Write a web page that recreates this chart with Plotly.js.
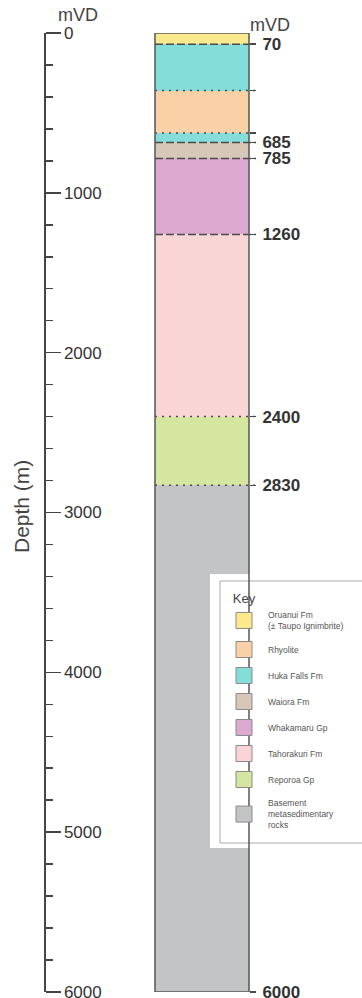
<!DOCTYPE html>
<html>
<head>
<meta charset="utf-8">
<script src="https://cdn.plot.ly/plotly-3.0.1.min.js"></script>
<style>html,body{margin:0;padding:0;background:#fff;}#chart{width:362px;height:998px;}</style>
</head>
<body>
<div id="chart"></div>
<script>
// ---- data ----
const unitNames = ['Oruanui Fm<br>(± Taupo Ignimbrite)', 'Rhyolite', 'Huka Falls Fm', 'Waiora Fm', 'Whakamaru Gp', 'Tahorakuri Fm', 'Reporoa Gp', 'Basement<br>metasedimentary<br>rocks'];
const unitColors = ['#fbe98e', '#fad1a7', '#85ddd9', '#d6c7b8', '#dcaad0', '#f9d6d5', '#d4e6a0', '#c3c4c6'];
// layers from top to bottom (index into unitNames)
const layerUnit   = [0, 2, 1, 2, 3, 4, 5, 6, 7];
const layerTop    = [0, 70, 360, 625, 685, 785, 1260, 2400, 2830];
const layerBottom = [70, 360, 625, 685, 785, 1260, 2400, 2830, 6000];
const contactStyle = ['dash', 'dot', 'dot', 'dash', 'dash', 'dash', 'dot', 'dot'];
const depthLabels  = ['70', '', '', '685', '785', '1260', '2400', '2830', '6000'];
const depthTicks = [0, 1000, 2000, 3000, 4000, 5000, 6000];
const colName = 'well';

const dashPattern = {dash: '8px,3px', dot: '2px,5px'};

// ---- build traces ----
const data = [];
unitNames.forEach((name, u) => {
  const xs = [], bases = [], ys = [];
  layerUnit.forEach((lu, i) => {
    if (lu === u) { xs.push(colName); bases.push(layerTop[i]); ys.push(layerBottom[i] - layerTop[i]); }
  });
  data.push({
    type: 'bar', x: xs, y: ys, base: bases, showlegend: false, hoverinfo: 'skip',
    marker: {color: unitColors[u], line: {width: 0}}, xaxis: 'x', yaxis: 'y'
  });
});
unitNames.forEach((name, u) => {
  data.push({
    type: 'scatter', mode: 'markers', x: [null], y: [null], name: name, legendgroup: 'g' + u,
    marker: {symbol: 'square', size: 16, color: unitColors[u], line: {color: '#8a8a8a', width: 1}},
    xaxis: 'x', yaxis: 'y'
  });
});
data.push({type: 'scatter', x: [null], y: [null], yaxis: 'y2', xaxis: 'x', showlegend: false, hoverinfo: 'skip'});

// plot area: top 33 px, bottom 992 px of a 998 px page
const py = v => (992 - v) / 959;

const shapes = [];
// white panel behind key, and the key frame
shapes.push({type: 'rect', xref: 'paper', yref: 'paper', x0: 210/362, x1: 1.02, y0: py(848), y1: py(574),
  fillcolor: '#ffffff', line: {width: 0}, layer: 'above'});
shapes.push({type: 'rect', xref: 'paper', yref: 'paper', x0: 220/362, x1: 1.05, y0: py(843), y1: py(581),
  fillcolor: '#ffffff', line: {width: 1, color: '#aaaaaa'}, layer: 'above'});
// contact lines
layerBottom.slice(0, -1).forEach((d, i) => {
  shapes.push({type: 'line', xref: 'x domain', yref: 'y', x0: 0, x1: 1.075, y0: d, y1: d,
    line: {color: '#4a4a4a', width: 1.5, dash: dashPattern[contactStyle[i]]}, layer: 'above'});
});
// column outline
shapes.push({type: 'rect', xref: 'x domain', yref: 'y', x0: 0, x1: 1, y0: layerTop[0], y1: layerBottom[layerBottom.length - 1],
  line: {color: '#555', width: 1.5}, layer: 'above'});

const layout = {
  width: 362, height: 998,
  margin: {l: 0, r: 0, t: 33, b: 6, autoexpand: false},
  paper_bgcolor: '#fff', plot_bgcolor: 'rgba(0,0,0,0)',
  barmode: 'overlay', bargap: 0,
  font: {family: 'Liberation Sans, Arial, sans-serif', color: '#333'},
  xaxis: {type: 'category', domain: [155/362, 249/362], range: [-0.5, 0.5], visible: false, fixedrange: true},
  yaxis: {
    range: [6000, 0], anchor: 'free', position: 44/362, side: 'right',
    showline: true, linecolor: '#444', linewidth: 1.5,
    ticks: 'outside', ticklen: 15, tickcolor: '#444', tickwidth: 1.5,
    tickvals: depthTicks, ticktext: depthTicks.map(String), ticklabeloverflow: 'allow',
    minor: {dtick: 200, ticks: 'outside', ticklen: 7, tickcolor: '#444', tickwidth: 1.5},
    showgrid: false, zeroline: false, tickfont: {size: 17, color: '#333'}
  },
  yaxis2: {
    range: [6000, 0], overlaying: 'y', anchor: 'free', position: 249/362, side: 'right',
    showline: false, ticks: 'outside', ticklen: 6, tickcolor: '#4a4a4a', tickwidth: 1.5,
    tickvals: layerBottom, ticktext: depthLabels, showgrid: false, zeroline: false, ticklabeloverflow: 'allow',
    ticklabelstandoff: 3,
    tickfont: {size: 17, color: '#333', weight: 'bold'}
  },
  shapes: shapes,
  annotations: [
    {text: 'Depth (m)', xref: 'paper', yref: 'paper', x: 22/362, y: py(507), textangle: -90,
     showarrow: false, font: {size: 21, color: '#444'}, xanchor: 'center', yanchor: 'middle'},
    {text: 'mVD', xref: 'paper', yref: 'paper', x: 78/362, y: py(15), showarrow: false,
     font: {size: 18, color: '#444'}, xanchor: 'center', yanchor: 'middle'},
    {text: 'mVD', xref: 'paper', yref: 'paper', x: 270/362, y: py(25), showarrow: false,
     font: {size: 18, color: '#444'}, xanchor: 'center', yanchor: 'middle'}
  ],
  showlegend: true,
  legend: {
    x: 220/362, y: py(586), xanchor: 'left', yanchor: 'top',
    bgcolor: 'rgba(255,255,255,0)', borderwidth: 0,
    font: {size: 8.5, color: '#555'}, title: {text: '&nbsp;&nbsp;&nbsp;Key', font: {size: 13, color: '#444'}},
    tracegroupgap: 7, itemsizing: 'trace', itemwidth: 38, valign: 'middle', traceorder: 'grouped'
  }
};

Plotly.newPlot('chart', data, layout, {staticPlot: true, displayModeBar: false});
</script>
</body>
</html>
